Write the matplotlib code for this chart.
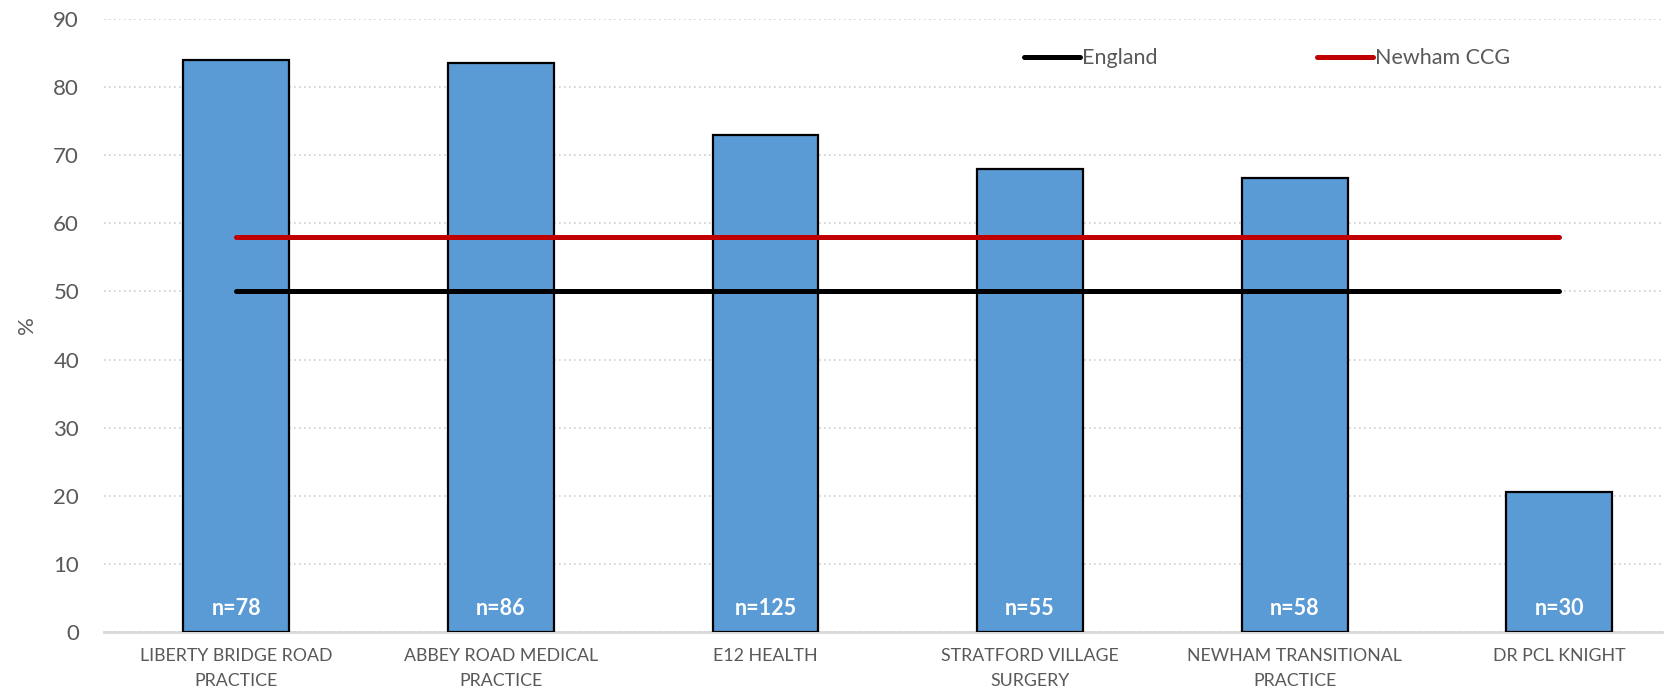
import matplotlib
matplotlib.use('Agg')
import matplotlib.pyplot as plt
import numpy as np

plt.rcParams['font.family'] = ['Lato', 'DejaVu Sans']

# データ
practices = ['LIBERTY BRIDGE ROAD\nPRACTICE', 'ABBEY ROAD MEDICAL\nPRACTICE', 'E12 HEALTH',
             'STRATFORD VILLAGE\nSURGERY', 'NEWHAM TRANSITIONAL\nPRACTICE', 'DR PCL KNIGHT']
values = [83.9, 83.5, 72.9, 67.9, 66.6, 20.6]
n_labels = ['n=78', 'n=86', 'n=125', 'n=55', 'n=58', 'n=30']
england = [50, 50, 50, 50, 50, 50]
newham_ccg = [58, 58, 58, 58, 58, 58]

grey = '#595959'

fig = plt.figure(figsize=(16.65, 6.96), dpi=100)
ax = fig.add_axes([0.0625, 0.0914, 0.9375, 0.882])

x = np.arange(len(practices))
ax.bar(x, values, width=0.40, color='#5B9BD5', edgecolor='black', linewidth=1.6, zorder=2)

ax.plot(x, england, color='black', lw=3.6, solid_capstyle='round', label='England', zorder=3)
ax.plot(x, newham_ccg, color='#C00000', lw=3.6, solid_capstyle='round', label='Newham CCG', zorder=3)

# n= ラベル
for xi, lab in zip(x, n_labels):
    ax.text(xi, 3.5, lab, ha='center', va='center', color='white',
            fontweight='bold', fontsize=15.5, zorder=4)

ax.set_xlim(-0.5, 5.40)
ax.set_ylim(0, 90)
ax.set_yticks(range(0, 91, 10))
ax.set_xticks(x)
ax.set_xticklabels(practices, fontsize=12.8, color=grey, linespacing=1.75)
ax.tick_params(axis='x', length=0, pad=11)
ax.tick_params(axis='y', length=0, pad=18, labelsize=16, labelcolor=grey)

ax.grid(axis='y', color='#d0d0d0', linestyle=(0, (1, 2)), linewidth=1.2, zorder=0)
for s in ['top', 'right', 'left']:
    ax.spines[s].set_visible(False)
ax.spines['bottom'].set_color('#d9d9d9')
ax.spines['bottom'].set_linewidth(2)
ax.spines['bottom'].set_zorder(1)

ax.set_ylabel('%', fontsize=16, color=grey)
ax.yaxis.set_label_coords(-0.043, 0.5)

leg = ax.legend(loc='center', bbox_to_anchor=(0.745, 0.935), ncol=2, frameon=False,
                fontsize=15.5, handlelength=2.6, handletextpad=0.1, columnspacing=7.4)
for t in leg.get_texts():
    t.set_color(grey)

plt.savefig('out.png', dpi=100)
plt.close()
